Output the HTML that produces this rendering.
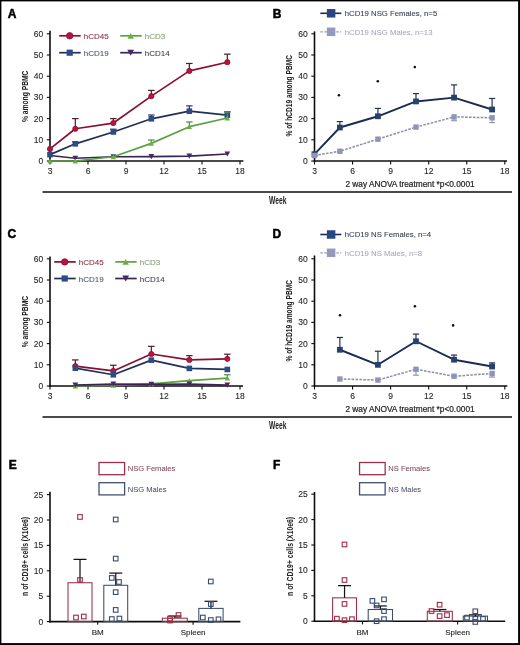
<!DOCTYPE html>
<html><head><meta charset="utf-8"><title>Figure</title>
<style>html,body{margin:0;padding:0;background:#fff;width:520px;height:645px;overflow:hidden;position:relative;font-family:"Liberation Sans", sans-serif;}</style>
</head><body>
<svg width="520" height="645" viewBox="0 0 520 645" style="position:absolute;left:0;top:0;filter:blur(0.3px)">
<g font-family='"Liberation Sans", sans-serif'>
<rect x="0" y="0" width="520" height="645" fill="#fff"/>
<text x="7.80" y="17.60" font-size="12" text-anchor="start" fill="#000" stroke="#000" stroke-width="0.5" font-weight="bold" >A</text>
<text x="272.70" y="18.00" font-size="12" text-anchor="start" fill="#000" stroke="#000" stroke-width="0.5" font-weight="bold" >B</text>
<text x="7.50" y="237.50" font-size="12" text-anchor="start" fill="#000" stroke="#000" stroke-width="0.5" font-weight="bold" >C</text>
<text x="272.50" y="237.50" font-size="12" text-anchor="start" fill="#000" stroke="#000" stroke-width="0.5" font-weight="bold" >D</text>
<text x="8.70" y="468.75" font-size="12" text-anchor="start" fill="#000" stroke="#000" stroke-width="0.5" font-weight="bold" >E</text>
<text x="273.00" y="468.75" font-size="12" text-anchor="start" fill="#000" stroke="#000" stroke-width="0.5" font-weight="bold" >F</text>
<line x1="50.00" y1="30.80" x2="50.00" y2="161.80" stroke="#0d0d0d" stroke-width="1.6" />
<line x1="49.20" y1="161.00" x2="243.40" y2="161.00" stroke="#0d0d0d" stroke-width="1.6" />
<line x1="46.80" y1="161.00" x2="50.00" y2="161.00" stroke="#0d0d0d" stroke-width="1.1" />
<text x="43.20" y="164.00" font-size="8.5" text-anchor="end" fill="#262626" stroke="#262626" stroke-width="0.1" font-weight="normal" >0</text>
<line x1="46.80" y1="139.80" x2="50.00" y2="139.80" stroke="#0d0d0d" stroke-width="1.1" />
<text x="43.20" y="142.80" font-size="8.5" text-anchor="end" fill="#262626" stroke="#262626" stroke-width="0.1" font-weight="normal" >10</text>
<line x1="46.80" y1="118.60" x2="50.00" y2="118.60" stroke="#0d0d0d" stroke-width="1.1" />
<text x="43.20" y="121.60" font-size="8.5" text-anchor="end" fill="#262626" stroke="#262626" stroke-width="0.1" font-weight="normal" >20</text>
<line x1="46.80" y1="97.40" x2="50.00" y2="97.40" stroke="#0d0d0d" stroke-width="1.1" />
<text x="43.20" y="100.40" font-size="8.5" text-anchor="end" fill="#262626" stroke="#262626" stroke-width="0.1" font-weight="normal" >30</text>
<line x1="46.80" y1="76.20" x2="50.00" y2="76.20" stroke="#0d0d0d" stroke-width="1.1" />
<text x="43.20" y="79.20" font-size="8.5" text-anchor="end" fill="#262626" stroke="#262626" stroke-width="0.1" font-weight="normal" >40</text>
<line x1="46.80" y1="55.00" x2="50.00" y2="55.00" stroke="#0d0d0d" stroke-width="1.1" />
<text x="43.20" y="58.00" font-size="8.5" text-anchor="end" fill="#262626" stroke="#262626" stroke-width="0.1" font-weight="normal" >50</text>
<line x1="46.80" y1="33.80" x2="50.00" y2="33.80" stroke="#0d0d0d" stroke-width="1.1" />
<text x="43.20" y="36.80" font-size="8.5" text-anchor="end" fill="#262626" stroke="#262626" stroke-width="0.1" font-weight="normal" >60</text>
<line x1="50.00" y1="161.00" x2="50.00" y2="164.50" stroke="#0d0d0d" stroke-width="1.1" />
<text x="50.00" y="173.70" font-size="8.5" text-anchor="middle" fill="#262626" stroke="#262626" stroke-width="0.1" font-weight="normal" >3</text>
<line x1="88.00" y1="161.00" x2="88.00" y2="164.50" stroke="#0d0d0d" stroke-width="1.1" />
<text x="88.00" y="173.70" font-size="8.5" text-anchor="middle" fill="#262626" stroke="#262626" stroke-width="0.1" font-weight="normal" >6</text>
<line x1="126.00" y1="161.00" x2="126.00" y2="164.50" stroke="#0d0d0d" stroke-width="1.1" />
<text x="126.00" y="173.70" font-size="8.5" text-anchor="middle" fill="#262626" stroke="#262626" stroke-width="0.1" font-weight="normal" >9</text>
<line x1="164.00" y1="161.00" x2="164.00" y2="164.50" stroke="#0d0d0d" stroke-width="1.1" />
<text x="164.00" y="173.70" font-size="8.5" text-anchor="middle" fill="#262626" stroke="#262626" stroke-width="0.1" font-weight="normal" >12</text>
<line x1="202.00" y1="161.00" x2="202.00" y2="164.50" stroke="#0d0d0d" stroke-width="1.1" />
<text x="202.00" y="173.70" font-size="8.5" text-anchor="middle" fill="#262626" stroke="#262626" stroke-width="0.1" font-weight="normal" >15</text>
<line x1="240.00" y1="161.00" x2="240.00" y2="164.50" stroke="#0d0d0d" stroke-width="1.1" />
<text x="240.00" y="173.70" font-size="8.5" text-anchor="middle" fill="#262626" stroke="#262626" stroke-width="0.1" font-weight="normal" >18</text>
<text transform="translate(24.40,96.30) rotate(-90)" x="-25.75" y="3.46" font-size="9.6" font-weight="bold" textLength="51.5" lengthAdjust="spacingAndGlyphs" fill="#222">% among PBMC</text>
<line x1="75.33" y1="128.78" x2="75.33" y2="118.60" stroke="#4a1a28" stroke-width="1.2" />
<line x1="72.08" y1="118.60" x2="78.58" y2="118.60" stroke="#4a1a28" stroke-width="1.2" />
<line x1="113.33" y1="123.05" x2="113.33" y2="118.60" stroke="#4a1a28" stroke-width="1.2" />
<line x1="110.08" y1="118.60" x2="116.58" y2="118.60" stroke="#4a1a28" stroke-width="1.2" />
<line x1="151.33" y1="96.13" x2="151.33" y2="90.40" stroke="#4a1a28" stroke-width="1.2" />
<line x1="148.08" y1="90.40" x2="154.58" y2="90.40" stroke="#4a1a28" stroke-width="1.2" />
<line x1="189.33" y1="70.90" x2="189.33" y2="63.48" stroke="#4a1a28" stroke-width="1.2" />
<line x1="186.08" y1="63.48" x2="192.58" y2="63.48" stroke="#4a1a28" stroke-width="1.2" />
<line x1="227.33" y1="62.21" x2="227.33" y2="54.15" stroke="#4a1a28" stroke-width="1.2" />
<line x1="224.08" y1="54.15" x2="230.58" y2="54.15" stroke="#4a1a28" stroke-width="1.2" />
<polyline points="50.00,148.92 75.33,128.78 113.33,123.05 151.33,96.13 189.33,70.90 227.33,62.21" fill="none" stroke="#85102f" stroke-width="1.7" stroke-linejoin="round" />
<circle cx="50.00" cy="148.92" r="2.6" fill="#bb1240" stroke="#8a0f2e" stroke-width="0.8"/>
<circle cx="75.33" cy="128.78" r="2.6" fill="#bb1240" stroke="#8a0f2e" stroke-width="0.8"/>
<circle cx="113.33" cy="123.05" r="2.6" fill="#bb1240" stroke="#8a0f2e" stroke-width="0.8"/>
<circle cx="151.33" cy="96.13" r="2.6" fill="#bb1240" stroke="#8a0f2e" stroke-width="0.8"/>
<circle cx="189.33" cy="70.90" r="2.6" fill="#bb1240" stroke="#8a0f2e" stroke-width="0.8"/>
<circle cx="227.33" cy="62.21" r="2.6" fill="#bb1240" stroke="#8a0f2e" stroke-width="0.8"/>
<polyline points="50.00,155.49 75.33,158.24 113.33,156.76 151.33,156.55 189.33,156.12 227.33,154.00" fill="none" stroke="#3b2354" stroke-width="1.7" stroke-linejoin="round" />
<polygon points="47.10,152.88 52.90,152.88 50.00,158.10" fill="#47296a"/>
<polygon points="72.43,155.63 78.23,155.63 75.33,160.85" fill="#47296a"/>
<polygon points="110.43,154.15 116.23,154.15 113.33,159.37" fill="#47296a"/>
<polygon points="148.43,153.94 154.23,153.94 151.33,159.16" fill="#47296a"/>
<polygon points="186.43,153.51 192.23,153.51 189.33,158.73" fill="#47296a"/>
<polygon points="224.43,151.39 230.23,151.39 227.33,156.61" fill="#47296a"/>
<line x1="75.33" y1="143.83" x2="75.33" y2="141.92" stroke="#26365a" stroke-width="1.2" />
<line x1="72.08" y1="141.92" x2="78.58" y2="141.92" stroke="#26365a" stroke-width="1.2" />
<line x1="113.33" y1="131.96" x2="113.33" y2="129.20" stroke="#26365a" stroke-width="1.2" />
<line x1="110.08" y1="129.20" x2="116.58" y2="129.20" stroke="#26365a" stroke-width="1.2" />
<line x1="151.33" y1="118.81" x2="151.33" y2="115.00" stroke="#26365a" stroke-width="1.2" />
<line x1="148.08" y1="115.00" x2="154.58" y2="115.00" stroke="#26365a" stroke-width="1.2" />
<line x1="189.33" y1="111.18" x2="189.33" y2="105.88" stroke="#26365a" stroke-width="1.2" />
<line x1="186.08" y1="105.88" x2="192.58" y2="105.88" stroke="#26365a" stroke-width="1.2" />
<line x1="227.33" y1="115.21" x2="227.33" y2="111.82" stroke="#26365a" stroke-width="1.2" />
<line x1="224.08" y1="111.82" x2="230.58" y2="111.82" stroke="#26365a" stroke-width="1.2" />
<polyline points="50.00,154.64 75.33,143.83 113.33,131.96 151.33,118.81 189.33,111.18 227.33,115.21" fill="none" stroke="#203058" stroke-width="1.7" stroke-linejoin="round" />
<rect x="47.20" y="151.84" width="5.6" height="5.6" fill="#2b4c86" stroke="none" stroke-width="0"/>
<rect x="72.53" y="141.03" width="5.6" height="5.6" fill="#2b4c86" stroke="none" stroke-width="0"/>
<rect x="110.53" y="129.16" width="5.6" height="5.6" fill="#2b4c86" stroke="none" stroke-width="0"/>
<rect x="148.53" y="116.01" width="5.6" height="5.6" fill="#2b4c86" stroke="none" stroke-width="0"/>
<rect x="186.53" y="108.38" width="5.6" height="5.6" fill="#2b4c86" stroke="none" stroke-width="0"/>
<rect x="224.53" y="112.41" width="5.6" height="5.6" fill="#2b4c86" stroke="none" stroke-width="0"/>
<line x1="151.33" y1="143.40" x2="151.33" y2="140.01" stroke="#4f8a38" stroke-width="1.2" />
<line x1="148.08" y1="140.01" x2="154.58" y2="140.01" stroke="#4f8a38" stroke-width="1.2" />
<line x1="189.33" y1="126.66" x2="189.33" y2="121.99" stroke="#4f8a38" stroke-width="1.2" />
<line x1="186.08" y1="121.99" x2="192.58" y2="121.99" stroke="#4f8a38" stroke-width="1.2" />
<line x1="227.33" y1="117.96" x2="227.33" y2="111.82" stroke="#4f8a38" stroke-width="1.2" />
<line x1="224.08" y1="111.82" x2="230.58" y2="111.82" stroke="#4f8a38" stroke-width="1.2" />
<polyline points="50.00,161.00 75.33,161.00 113.33,156.76 151.33,143.40 189.33,126.66 227.33,117.96" fill="none" stroke="#5ca23f" stroke-width="1.7" stroke-linejoin="round" />
<polygon points="47.30,163.43 52.70,163.43 50.00,158.57" fill="#6cae42"/>
<polygon points="72.63,163.43 78.03,163.43 75.33,158.57" fill="#6cae42"/>
<polygon points="110.63,159.19 116.03,159.19 113.33,154.33" fill="#6cae42"/>
<polygon points="148.63,145.83 154.03,145.83 151.33,140.97" fill="#6cae42"/>
<polygon points="186.63,129.09 192.03,129.09 189.33,124.23" fill="#6cae42"/>
<polygon points="224.63,120.39 230.03,120.39 227.33,115.53" fill="#6cae42"/>
<line x1="59.20" y1="35.80" x2="80.70" y2="35.80" stroke="#85102f" stroke-width="1.7" />
<circle cx="69.70" cy="35.80" r="3.2" fill="#bb1240" stroke="#8a0f2e" stroke-width="0.8"/>
<text x="83.70" y="38.80" font-size="8.0" text-anchor="start" fill="#8c3347" stroke="#8c3347" stroke-width="0.1" font-weight="normal" >hCD45</text>
<line x1="120.20" y1="35.80" x2="141.70" y2="35.80" stroke="#5ca23f" stroke-width="1.7" />
<polygon points="127.45,38.72 133.95,38.72 130.70,32.88" fill="#6cae42"/>
<text x="144.70" y="38.80" font-size="8.0" text-anchor="start" fill="#8aa07a" stroke="#8aa07a" stroke-width="0.1" font-weight="normal" >hCD3</text>
<line x1="59.20" y1="52.70" x2="80.70" y2="52.70" stroke="#203058" stroke-width="1.7" />
<rect x="66.60" y="49.60" width="6.2" height="6.2" fill="#2b4c86" stroke="none" stroke-width="0"/>
<text x="83.70" y="55.70" font-size="8.0" text-anchor="start" fill="#4e5a74" stroke="#4e5a74" stroke-width="0.1" font-weight="normal" >hCD19</text>
<line x1="120.20" y1="52.70" x2="141.70" y2="52.70" stroke="#3b2354" stroke-width="1.7" />
<polygon points="127.30,49.64 134.10,49.64 130.70,55.76" fill="#47296a"/>
<text x="144.70" y="55.70" font-size="8.0" text-anchor="start" fill="#4a4058" stroke="#4a4058" stroke-width="0.1" font-weight="normal" >hCD14</text>
<line x1="314.50" y1="31.40" x2="314.50" y2="161.80" stroke="#0d0d0d" stroke-width="1.6" />
<line x1="313.70" y1="161.00" x2="507.00" y2="161.00" stroke="#0d0d0d" stroke-width="1.6" />
<line x1="311.30" y1="161.00" x2="314.50" y2="161.00" stroke="#0d0d0d" stroke-width="1.1" />
<text x="307.70" y="164.00" font-size="8.5" text-anchor="end" fill="#262626" stroke="#262626" stroke-width="0.1" font-weight="normal" >0</text>
<line x1="311.30" y1="139.80" x2="314.50" y2="139.80" stroke="#0d0d0d" stroke-width="1.1" />
<text x="307.70" y="142.80" font-size="8.5" text-anchor="end" fill="#262626" stroke="#262626" stroke-width="0.1" font-weight="normal" >10</text>
<line x1="311.30" y1="118.60" x2="314.50" y2="118.60" stroke="#0d0d0d" stroke-width="1.1" />
<text x="307.70" y="121.60" font-size="8.5" text-anchor="end" fill="#262626" stroke="#262626" stroke-width="0.1" font-weight="normal" >20</text>
<line x1="311.30" y1="97.40" x2="314.50" y2="97.40" stroke="#0d0d0d" stroke-width="1.1" />
<text x="307.70" y="100.40" font-size="8.5" text-anchor="end" fill="#262626" stroke="#262626" stroke-width="0.1" font-weight="normal" >30</text>
<line x1="311.30" y1="76.20" x2="314.50" y2="76.20" stroke="#0d0d0d" stroke-width="1.1" />
<text x="307.70" y="79.20" font-size="8.5" text-anchor="end" fill="#262626" stroke="#262626" stroke-width="0.1" font-weight="normal" >40</text>
<line x1="311.30" y1="55.00" x2="314.50" y2="55.00" stroke="#0d0d0d" stroke-width="1.1" />
<text x="307.70" y="58.00" font-size="8.5" text-anchor="end" fill="#262626" stroke="#262626" stroke-width="0.1" font-weight="normal" >50</text>
<line x1="311.30" y1="33.80" x2="314.50" y2="33.80" stroke="#0d0d0d" stroke-width="1.1" />
<text x="307.70" y="36.80" font-size="8.5" text-anchor="end" fill="#262626" stroke="#262626" stroke-width="0.1" font-weight="normal" >60</text>
<line x1="314.50" y1="161.00" x2="314.50" y2="164.50" stroke="#0d0d0d" stroke-width="1.1" />
<text x="314.50" y="173.70" font-size="8.5" text-anchor="middle" fill="#262626" stroke="#262626" stroke-width="0.1" font-weight="normal" >3</text>
<line x1="352.56" y1="161.00" x2="352.56" y2="164.50" stroke="#0d0d0d" stroke-width="1.1" />
<text x="352.56" y="173.70" font-size="8.5" text-anchor="middle" fill="#262626" stroke="#262626" stroke-width="0.1" font-weight="normal" >6</text>
<line x1="390.62" y1="161.00" x2="390.62" y2="164.50" stroke="#0d0d0d" stroke-width="1.1" />
<text x="390.62" y="173.70" font-size="8.5" text-anchor="middle" fill="#262626" stroke="#262626" stroke-width="0.1" font-weight="normal" >9</text>
<line x1="428.68" y1="161.00" x2="428.68" y2="164.50" stroke="#0d0d0d" stroke-width="1.1" />
<text x="428.68" y="173.70" font-size="8.5" text-anchor="middle" fill="#262626" stroke="#262626" stroke-width="0.1" font-weight="normal" >12</text>
<line x1="466.74" y1="161.00" x2="466.74" y2="164.50" stroke="#0d0d0d" stroke-width="1.1" />
<text x="466.74" y="173.70" font-size="8.5" text-anchor="middle" fill="#262626" stroke="#262626" stroke-width="0.1" font-weight="normal" >15</text>
<line x1="504.80" y1="161.00" x2="504.80" y2="164.50" stroke="#0d0d0d" stroke-width="1.1" />
<text x="504.80" y="173.70" font-size="8.5" text-anchor="middle" fill="#262626" stroke="#262626" stroke-width="0.1" font-weight="normal" >18</text>
<text transform="translate(289.00,95.80) rotate(-90)" x="-40.75" y="3.46" font-size="9.6" font-weight="bold" textLength="81.5" lengthAdjust="spacingAndGlyphs" fill="#222">% of hCD19 among PBMC</text>
<line x1="339.87" y1="127.50" x2="339.87" y2="121.57" stroke="#28324c" stroke-width="1.2" />
<line x1="336.77" y1="121.57" x2="342.97" y2="121.57" stroke="#28324c" stroke-width="1.2" />
<line x1="377.93" y1="116.27" x2="377.93" y2="108.42" stroke="#28324c" stroke-width="1.2" />
<line x1="374.83" y1="108.42" x2="381.03" y2="108.42" stroke="#28324c" stroke-width="1.2" />
<line x1="415.99" y1="101.43" x2="415.99" y2="93.58" stroke="#28324c" stroke-width="1.2" />
<line x1="412.89" y1="93.58" x2="419.09" y2="93.58" stroke="#28324c" stroke-width="1.2" />
<line x1="454.05" y1="97.61" x2="454.05" y2="84.89" stroke="#28324c" stroke-width="1.2" />
<line x1="450.95" y1="84.89" x2="457.15" y2="84.89" stroke="#28324c" stroke-width="1.2" />
<line x1="492.11" y1="109.48" x2="492.11" y2="98.46" stroke="#28324c" stroke-width="1.2" />
<line x1="489.01" y1="98.46" x2="495.21" y2="98.46" stroke="#28324c" stroke-width="1.2" />
<polyline points="314.50,154.22 339.87,127.50 377.93,116.27 415.99,101.43 454.05,97.61 492.11,109.48" fill="none" stroke="#1c2b52" stroke-width="1.9" stroke-linejoin="round" />
<rect x="311.60" y="151.32" width="5.8" height="5.8" fill="#26406f" stroke="none" stroke-width="0"/>
<rect x="336.97" y="124.60" width="5.8" height="5.8" fill="#26406f" stroke="none" stroke-width="0"/>
<rect x="375.03" y="113.37" width="5.8" height="5.8" fill="#26406f" stroke="none" stroke-width="0"/>
<rect x="413.09" y="98.53" width="5.8" height="5.8" fill="#26406f" stroke="none" stroke-width="0"/>
<rect x="451.15" y="94.71" width="5.8" height="5.8" fill="#26406f" stroke="none" stroke-width="0"/>
<rect x="489.21" y="106.58" width="5.8" height="5.8" fill="#26406f" stroke="none" stroke-width="0"/>
<line x1="454.05" y1="116.90" x2="454.05" y2="120.72" stroke="#8a90b0" stroke-width="1.1" />
<line x1="451.05" y1="120.72" x2="457.05" y2="120.72" stroke="#8a90b0" stroke-width="1.1" />
<line x1="492.11" y1="117.75" x2="492.11" y2="122.63" stroke="#8a90b0" stroke-width="1.1" />
<line x1="489.11" y1="122.63" x2="495.11" y2="122.63" stroke="#8a90b0" stroke-width="1.1" />
<polyline points="314.50,155.49 339.87,151.25 377.93,139.16 415.99,127.08 454.05,116.90 492.11,117.75" fill="none" stroke="#8a8cab" stroke-width="1.5" stroke-linejoin="round" stroke-dasharray="2.6,1.3"/>
<rect x="311.80" y="152.79" width="5.4" height="5.4" fill="#9095b8" stroke="none" stroke-width="0"/>
<rect x="337.17" y="148.55" width="5.4" height="5.4" fill="#9095b8" stroke="none" stroke-width="0"/>
<rect x="375.23" y="136.46" width="5.4" height="5.4" fill="#9095b8" stroke="none" stroke-width="0"/>
<rect x="413.29" y="124.38" width="5.4" height="5.4" fill="#9095b8" stroke="none" stroke-width="0"/>
<rect x="451.35" y="114.20" width="5.4" height="5.4" fill="#9095b8" stroke="none" stroke-width="0"/>
<rect x="489.41" y="115.05" width="5.4" height="5.4" fill="#9095b8" stroke="none" stroke-width="0"/>
<circle cx="338.90" cy="95.30" r="1.3" fill="#111" stroke="none" stroke-width="0"/>
<circle cx="377.80" cy="81.20" r="1.3" fill="#111" stroke="none" stroke-width="0"/>
<circle cx="414.80" cy="67.10" r="1.3" fill="#111" stroke="none" stroke-width="0"/>
<line x1="320.30" y1="13.30" x2="341.30" y2="13.30" stroke="#1c2b52" stroke-width="1.6" />
<rect x="326.85" y="9.05" width="8.5" height="8.5" fill="#284680" stroke="none" stroke-width="0"/>
<text x="344.80" y="16.10" font-size="7.75" text-anchor="start" fill="#3c4356" stroke="#3c4356" stroke-width="0.1" font-weight="normal" >hCD19 NSG Females, n=5</text>
<line x1="320.30" y1="31.80" x2="341.30" y2="31.80" stroke="#9499bd" stroke-width="1.3" stroke-dasharray="2.5,1.5"/>
<rect x="326.85" y="27.55" width="8.5" height="8.5" fill="#9499bd" stroke="none" stroke-width="0"/>
<text x="344.80" y="34.60" font-size="7.75" text-anchor="start" fill="#a3a7bd" stroke="#a3a7bd" stroke-width="0.05" font-weight="normal" >hCD19 NSG Males, n=13</text>
<text x="410.00" y="187.00" font-size="8.3" text-anchor="middle" fill="#262626" stroke="#262626" stroke-width="0.22" font-weight="normal" >2 way ANOVA treatment *p&lt;0.0001</text>
<line x1="42.50" y1="192.00" x2="512.00" y2="192.00" stroke="#0d0d0d" stroke-width="1.5" />
<text x="269" y="203.9" font-size="10" font-weight="bold" textLength="17.4" lengthAdjust="spacingAndGlyphs" fill="#222">Week</text>
<line x1="50.00" y1="256.50" x2="50.00" y2="386.80" stroke="#0d0d0d" stroke-width="1.6" />
<line x1="49.20" y1="386.00" x2="243.00" y2="386.00" stroke="#0d0d0d" stroke-width="1.6" />
<line x1="46.80" y1="386.00" x2="50.00" y2="386.00" stroke="#0d0d0d" stroke-width="1.1" />
<text x="43.20" y="389.00" font-size="8.5" text-anchor="end" fill="#262626" stroke="#262626" stroke-width="0.1" font-weight="normal" >0</text>
<line x1="46.80" y1="364.80" x2="50.00" y2="364.80" stroke="#0d0d0d" stroke-width="1.1" />
<text x="43.20" y="367.80" font-size="8.5" text-anchor="end" fill="#262626" stroke="#262626" stroke-width="0.1" font-weight="normal" >10</text>
<line x1="46.80" y1="343.60" x2="50.00" y2="343.60" stroke="#0d0d0d" stroke-width="1.1" />
<text x="43.20" y="346.60" font-size="8.5" text-anchor="end" fill="#262626" stroke="#262626" stroke-width="0.1" font-weight="normal" >20</text>
<line x1="46.80" y1="322.40" x2="50.00" y2="322.40" stroke="#0d0d0d" stroke-width="1.1" />
<text x="43.20" y="325.40" font-size="8.5" text-anchor="end" fill="#262626" stroke="#262626" stroke-width="0.1" font-weight="normal" >30</text>
<line x1="46.80" y1="301.20" x2="50.00" y2="301.20" stroke="#0d0d0d" stroke-width="1.1" />
<text x="43.20" y="304.20" font-size="8.5" text-anchor="end" fill="#262626" stroke="#262626" stroke-width="0.1" font-weight="normal" >40</text>
<line x1="46.80" y1="280.00" x2="50.00" y2="280.00" stroke="#0d0d0d" stroke-width="1.1" />
<text x="43.20" y="283.00" font-size="8.5" text-anchor="end" fill="#262626" stroke="#262626" stroke-width="0.1" font-weight="normal" >50</text>
<line x1="46.80" y1="258.80" x2="50.00" y2="258.80" stroke="#0d0d0d" stroke-width="1.1" />
<text x="43.20" y="261.80" font-size="8.5" text-anchor="end" fill="#262626" stroke="#262626" stroke-width="0.1" font-weight="normal" >60</text>
<line x1="50.00" y1="386.00" x2="50.00" y2="389.50" stroke="#0d0d0d" stroke-width="1.1" />
<text x="50.00" y="398.70" font-size="8.5" text-anchor="middle" fill="#262626" stroke="#262626" stroke-width="0.1" font-weight="normal" >3</text>
<line x1="88.00" y1="386.00" x2="88.00" y2="389.50" stroke="#0d0d0d" stroke-width="1.1" />
<text x="88.00" y="398.70" font-size="8.5" text-anchor="middle" fill="#262626" stroke="#262626" stroke-width="0.1" font-weight="normal" >6</text>
<line x1="126.00" y1="386.00" x2="126.00" y2="389.50" stroke="#0d0d0d" stroke-width="1.1" />
<text x="126.00" y="398.70" font-size="8.5" text-anchor="middle" fill="#262626" stroke="#262626" stroke-width="0.1" font-weight="normal" >9</text>
<line x1="164.00" y1="386.00" x2="164.00" y2="389.50" stroke="#0d0d0d" stroke-width="1.1" />
<text x="164.00" y="398.70" font-size="8.5" text-anchor="middle" fill="#262626" stroke="#262626" stroke-width="0.1" font-weight="normal" >12</text>
<line x1="202.00" y1="386.00" x2="202.00" y2="389.50" stroke="#0d0d0d" stroke-width="1.1" />
<text x="202.00" y="398.70" font-size="8.5" text-anchor="middle" fill="#262626" stroke="#262626" stroke-width="0.1" font-weight="normal" >15</text>
<line x1="240.00" y1="386.00" x2="240.00" y2="389.50" stroke="#0d0d0d" stroke-width="1.1" />
<text x="240.00" y="398.70" font-size="8.5" text-anchor="middle" fill="#262626" stroke="#262626" stroke-width="0.1" font-weight="normal" >18</text>
<text transform="translate(24.40,321.60) rotate(-90)" x="-25.75" y="3.46" font-size="9.6" font-weight="bold" textLength="51.5" lengthAdjust="spacingAndGlyphs" fill="#222">% among PBMC</text>
<line x1="75.33" y1="366.07" x2="75.33" y2="359.92" stroke="#4a1a28" stroke-width="1.2" />
<line x1="72.08" y1="359.92" x2="78.58" y2="359.92" stroke="#4a1a28" stroke-width="1.2" />
<line x1="113.33" y1="370.95" x2="113.33" y2="365.22" stroke="#4a1a28" stroke-width="1.2" />
<line x1="110.08" y1="365.22" x2="116.58" y2="365.22" stroke="#4a1a28" stroke-width="1.2" />
<line x1="151.33" y1="353.99" x2="151.33" y2="346.36" stroke="#4a1a28" stroke-width="1.2" />
<line x1="148.08" y1="346.36" x2="154.58" y2="346.36" stroke="#4a1a28" stroke-width="1.2" />
<line x1="189.33" y1="359.92" x2="189.33" y2="355.68" stroke="#4a1a28" stroke-width="1.2" />
<line x1="186.08" y1="355.68" x2="192.58" y2="355.68" stroke="#4a1a28" stroke-width="1.2" />
<line x1="227.33" y1="358.86" x2="227.33" y2="354.20" stroke="#4a1a28" stroke-width="1.2" />
<line x1="224.08" y1="354.20" x2="230.58" y2="354.20" stroke="#4a1a28" stroke-width="1.2" />
<polyline points="75.33,366.07 113.33,370.95 151.33,353.99 189.33,359.92 227.33,358.86" fill="none" stroke="#85102f" stroke-width="1.7" stroke-linejoin="round" />
<circle cx="75.33" cy="366.07" r="2.6" fill="#bb1240" stroke="#8a0f2e" stroke-width="0.8"/>
<circle cx="113.33" cy="370.95" r="2.6" fill="#bb1240" stroke="#8a0f2e" stroke-width="0.8"/>
<circle cx="151.33" cy="353.99" r="2.6" fill="#bb1240" stroke="#8a0f2e" stroke-width="0.8"/>
<circle cx="189.33" cy="359.92" r="2.6" fill="#bb1240" stroke="#8a0f2e" stroke-width="0.8"/>
<circle cx="227.33" cy="358.86" r="2.6" fill="#bb1240" stroke="#8a0f2e" stroke-width="0.8"/>
<polyline points="75.33,368.19 113.33,374.76 151.33,360.14 189.33,368.40 227.33,369.46" fill="none" stroke="#203058" stroke-width="1.7" stroke-linejoin="round" />
<rect x="72.53" y="365.39" width="5.6" height="5.6" fill="#2b4c86" stroke="none" stroke-width="0"/>
<rect x="110.53" y="371.96" width="5.6" height="5.6" fill="#2b4c86" stroke="none" stroke-width="0"/>
<rect x="148.53" y="357.34" width="5.6" height="5.6" fill="#2b4c86" stroke="none" stroke-width="0"/>
<rect x="186.53" y="365.60" width="5.6" height="5.6" fill="#2b4c86" stroke="none" stroke-width="0"/>
<rect x="224.53" y="366.66" width="5.6" height="5.6" fill="#2b4c86" stroke="none" stroke-width="0"/>
<line x1="227.33" y1="378.16" x2="227.33" y2="374.76" stroke="#4f8a38" stroke-width="1.2" />
<line x1="224.08" y1="374.76" x2="230.58" y2="374.76" stroke="#4f8a38" stroke-width="1.2" />
<polyline points="75.33,386.00 113.33,385.36 151.33,383.88 189.33,380.70 227.33,378.16" fill="none" stroke="#5ca23f" stroke-width="1.7" stroke-linejoin="round" />
<polygon points="72.63,388.43 78.03,388.43 75.33,383.57" fill="#6cae42"/>
<polygon points="110.63,387.79 116.03,387.79 113.33,382.93" fill="#6cae42"/>
<polygon points="148.63,386.31 154.03,386.31 151.33,381.45" fill="#6cae42"/>
<polygon points="186.63,383.13 192.03,383.13 189.33,378.27" fill="#6cae42"/>
<polygon points="224.63,380.59 230.03,380.59 227.33,375.73" fill="#6cae42"/>
<polyline points="75.33,385.15 113.33,384.09 151.33,384.30 189.33,384.09 227.33,385.15" fill="none" stroke="#3b2354" stroke-width="1.7" stroke-linejoin="round" />
<polygon points="72.43,382.54 78.23,382.54 75.33,387.76" fill="#47296a"/>
<polygon points="110.43,381.48 116.23,381.48 113.33,386.70" fill="#47296a"/>
<polygon points="148.43,381.69 154.23,381.69 151.33,386.91" fill="#47296a"/>
<polygon points="186.43,381.48 192.23,381.48 189.33,386.70" fill="#47296a"/>
<polygon points="224.43,382.54 230.23,382.54 227.33,387.76" fill="#47296a"/>
<line x1="54.20" y1="261.90" x2="75.70" y2="261.90" stroke="#85102f" stroke-width="1.7" />
<circle cx="64.70" cy="261.90" r="3.2" fill="#bb1240" stroke="#8a0f2e" stroke-width="0.8"/>
<text x="78.70" y="264.90" font-size="8.0" text-anchor="start" fill="#8c3347" stroke="#8c3347" stroke-width="0.1" font-weight="normal" >hCD45</text>
<line x1="115.20" y1="261.90" x2="136.70" y2="261.90" stroke="#5ca23f" stroke-width="1.7" />
<polygon points="122.45,264.82 128.95,264.82 125.70,258.97" fill="#6cae42"/>
<text x="139.70" y="264.90" font-size="8.0" text-anchor="start" fill="#8aa07a" stroke="#8aa07a" stroke-width="0.1" font-weight="normal" >hCD3</text>
<line x1="54.20" y1="278.50" x2="75.70" y2="278.50" stroke="#203058" stroke-width="1.7" />
<rect x="61.60" y="275.40" width="6.2" height="6.2" fill="#2b4c86" stroke="none" stroke-width="0"/>
<text x="78.70" y="281.50" font-size="8.0" text-anchor="start" fill="#4e5a74" stroke="#4e5a74" stroke-width="0.1" font-weight="normal" >hCD19</text>
<line x1="115.20" y1="278.50" x2="136.70" y2="278.50" stroke="#3b2354" stroke-width="1.7" />
<polygon points="122.30,275.44 129.10,275.44 125.70,281.56" fill="#47296a"/>
<text x="139.70" y="281.50" font-size="8.0" text-anchor="start" fill="#4a4058" stroke="#4a4058" stroke-width="0.1" font-weight="normal" >hCD14</text>
<line x1="314.50" y1="255.50" x2="314.50" y2="386.80" stroke="#0d0d0d" stroke-width="1.6" />
<line x1="313.70" y1="386.00" x2="507.30" y2="386.00" stroke="#0d0d0d" stroke-width="1.6" />
<line x1="311.30" y1="386.00" x2="314.50" y2="386.00" stroke="#0d0d0d" stroke-width="1.1" />
<text x="307.70" y="389.00" font-size="8.5" text-anchor="end" fill="#262626" stroke="#262626" stroke-width="0.1" font-weight="normal" >0</text>
<line x1="311.30" y1="364.80" x2="314.50" y2="364.80" stroke="#0d0d0d" stroke-width="1.1" />
<text x="307.70" y="367.80" font-size="8.5" text-anchor="end" fill="#262626" stroke="#262626" stroke-width="0.1" font-weight="normal" >10</text>
<line x1="311.30" y1="343.60" x2="314.50" y2="343.60" stroke="#0d0d0d" stroke-width="1.1" />
<text x="307.70" y="346.60" font-size="8.5" text-anchor="end" fill="#262626" stroke="#262626" stroke-width="0.1" font-weight="normal" >20</text>
<line x1="311.30" y1="322.40" x2="314.50" y2="322.40" stroke="#0d0d0d" stroke-width="1.1" />
<text x="307.70" y="325.40" font-size="8.5" text-anchor="end" fill="#262626" stroke="#262626" stroke-width="0.1" font-weight="normal" >30</text>
<line x1="311.30" y1="301.20" x2="314.50" y2="301.20" stroke="#0d0d0d" stroke-width="1.1" />
<text x="307.70" y="304.20" font-size="8.5" text-anchor="end" fill="#262626" stroke="#262626" stroke-width="0.1" font-weight="normal" >40</text>
<line x1="311.30" y1="280.00" x2="314.50" y2="280.00" stroke="#0d0d0d" stroke-width="1.1" />
<text x="307.70" y="283.00" font-size="8.5" text-anchor="end" fill="#262626" stroke="#262626" stroke-width="0.1" font-weight="normal" >50</text>
<line x1="311.30" y1="258.80" x2="314.50" y2="258.80" stroke="#0d0d0d" stroke-width="1.1" />
<text x="307.70" y="261.80" font-size="8.5" text-anchor="end" fill="#262626" stroke="#262626" stroke-width="0.1" font-weight="normal" >60</text>
<line x1="314.50" y1="386.00" x2="314.50" y2="389.50" stroke="#0d0d0d" stroke-width="1.1" />
<text x="314.50" y="398.70" font-size="8.5" text-anchor="middle" fill="#262626" stroke="#262626" stroke-width="0.1" font-weight="normal" >3</text>
<line x1="352.56" y1="386.00" x2="352.56" y2="389.50" stroke="#0d0d0d" stroke-width="1.1" />
<text x="352.56" y="398.70" font-size="8.5" text-anchor="middle" fill="#262626" stroke="#262626" stroke-width="0.1" font-weight="normal" >6</text>
<line x1="390.62" y1="386.00" x2="390.62" y2="389.50" stroke="#0d0d0d" stroke-width="1.1" />
<text x="390.62" y="398.70" font-size="8.5" text-anchor="middle" fill="#262626" stroke="#262626" stroke-width="0.1" font-weight="normal" >9</text>
<line x1="428.68" y1="386.00" x2="428.68" y2="389.50" stroke="#0d0d0d" stroke-width="1.1" />
<text x="428.68" y="398.70" font-size="8.5" text-anchor="middle" fill="#262626" stroke="#262626" stroke-width="0.1" font-weight="normal" >12</text>
<line x1="466.74" y1="386.00" x2="466.74" y2="389.50" stroke="#0d0d0d" stroke-width="1.1" />
<text x="466.74" y="398.70" font-size="8.5" text-anchor="middle" fill="#262626" stroke="#262626" stroke-width="0.1" font-weight="normal" >15</text>
<line x1="504.80" y1="386.00" x2="504.80" y2="389.50" stroke="#0d0d0d" stroke-width="1.1" />
<text x="504.80" y="398.70" font-size="8.5" text-anchor="middle" fill="#262626" stroke="#262626" stroke-width="0.1" font-weight="normal" >18</text>
<text transform="translate(289.00,320.80) rotate(-90)" x="-40.75" y="3.46" font-size="9.6" font-weight="bold" textLength="81.5" lengthAdjust="spacingAndGlyphs" fill="#222">% of hCD19 among PBMC</text>
<line x1="339.87" y1="349.75" x2="339.87" y2="337.45" stroke="#28324c" stroke-width="1.2" />
<line x1="336.77" y1="337.45" x2="342.97" y2="337.45" stroke="#28324c" stroke-width="1.2" />
<line x1="377.93" y1="364.80" x2="377.93" y2="351.23" stroke="#28324c" stroke-width="1.2" />
<line x1="374.83" y1="351.23" x2="381.03" y2="351.23" stroke="#28324c" stroke-width="1.2" />
<line x1="415.99" y1="341.27" x2="415.99" y2="334.06" stroke="#28324c" stroke-width="1.2" />
<line x1="412.89" y1="334.06" x2="419.09" y2="334.06" stroke="#28324c" stroke-width="1.2" />
<line x1="454.05" y1="359.71" x2="454.05" y2="355.05" stroke="#28324c" stroke-width="1.2" />
<line x1="450.95" y1="355.05" x2="457.15" y2="355.05" stroke="#28324c" stroke-width="1.2" />
<line x1="492.11" y1="366.50" x2="492.11" y2="362.89" stroke="#28324c" stroke-width="1.2" />
<line x1="489.01" y1="362.89" x2="495.21" y2="362.89" stroke="#28324c" stroke-width="1.2" />
<polyline points="339.87,349.75 377.93,364.80 415.99,341.27 454.05,359.71 492.11,366.50" fill="none" stroke="#1c2b52" stroke-width="1.9" stroke-linejoin="round" />
<rect x="336.97" y="346.85" width="5.8" height="5.8" fill="#26406f" stroke="none" stroke-width="0"/>
<rect x="375.03" y="361.90" width="5.8" height="5.8" fill="#26406f" stroke="none" stroke-width="0"/>
<rect x="413.09" y="338.37" width="5.8" height="5.8" fill="#26406f" stroke="none" stroke-width="0"/>
<rect x="451.15" y="356.81" width="5.8" height="5.8" fill="#26406f" stroke="none" stroke-width="0"/>
<rect x="489.21" y="363.60" width="5.8" height="5.8" fill="#26406f" stroke="none" stroke-width="0"/>
<line x1="415.99" y1="369.25" x2="415.99" y2="375.19" stroke="#8a90b0" stroke-width="1.1" />
<line x1="412.99" y1="375.19" x2="418.99" y2="375.19" stroke="#8a90b0" stroke-width="1.1" />
<line x1="492.11" y1="373.49" x2="492.11" y2="377.10" stroke="#8a90b0" stroke-width="1.1" />
<line x1="489.11" y1="377.10" x2="495.11" y2="377.10" stroke="#8a90b0" stroke-width="1.1" />
<polyline points="339.87,379.00 377.93,380.06 415.99,369.25 454.05,376.25 492.11,373.49" fill="none" stroke="#8a8cab" stroke-width="1.5" stroke-linejoin="round" stroke-dasharray="2.6,1.3"/>
<rect x="337.17" y="376.30" width="5.4" height="5.4" fill="#9095b8" stroke="none" stroke-width="0"/>
<rect x="375.23" y="377.36" width="5.4" height="5.4" fill="#9095b8" stroke="none" stroke-width="0"/>
<rect x="413.29" y="366.55" width="5.4" height="5.4" fill="#9095b8" stroke="none" stroke-width="0"/>
<rect x="451.35" y="373.55" width="5.4" height="5.4" fill="#9095b8" stroke="none" stroke-width="0"/>
<rect x="489.41" y="370.79" width="5.4" height="5.4" fill="#9095b8" stroke="none" stroke-width="0"/>
<circle cx="340.00" cy="315.30" r="1.3" fill="#111" stroke="none" stroke-width="0"/>
<circle cx="414.90" cy="306.30" r="1.3" fill="#111" stroke="none" stroke-width="0"/>
<circle cx="453.10" cy="325.40" r="1.3" fill="#111" stroke="none" stroke-width="0"/>
<line x1="320.30" y1="234.50" x2="341.30" y2="234.50" stroke="#1c2b52" stroke-width="1.6" />
<rect x="326.85" y="230.25" width="8.5" height="8.5" fill="#284680" stroke="none" stroke-width="0"/>
<text x="344.80" y="237.30" font-size="7.75" text-anchor="start" fill="#3c4356" stroke="#3c4356" stroke-width="0.1" font-weight="normal" >hCD19 NS Females, n=4</text>
<line x1="320.30" y1="252.80" x2="341.30" y2="252.80" stroke="#9499bd" stroke-width="1.3" stroke-dasharray="2.5,1.5"/>
<rect x="326.85" y="248.55" width="8.5" height="8.5" fill="#9499bd" stroke="none" stroke-width="0"/>
<text x="344.80" y="255.60" font-size="7.75" text-anchor="start" fill="#a3a7bd" stroke="#a3a7bd" stroke-width="0.05" font-weight="normal" >hCD19 NS Males, n=8</text>
<text x="410.00" y="412.00" font-size="8.3" text-anchor="middle" fill="#262626" stroke="#262626" stroke-width="0.22" font-weight="normal" >2 way ANOVA treatment *p&lt;0.0001</text>
<line x1="42.50" y1="417.00" x2="512.00" y2="417.00" stroke="#0d0d0d" stroke-width="1.5" />
<text x="269" y="429.1" font-size="10" font-weight="bold" textLength="17.4" lengthAdjust="spacingAndGlyphs" fill="#222">Week</text>
<line x1="50.00" y1="491.70" x2="50.00" y2="622.40" stroke="#0d0d0d" stroke-width="1.6" />
<line x1="49.20" y1="621.60" x2="240.40" y2="621.60" stroke="#0d0d0d" stroke-width="1.6" />
<line x1="46.80" y1="621.60" x2="50.00" y2="621.60" stroke="#0d0d0d" stroke-width="1.1" />
<text x="43.20" y="624.60" font-size="8.5" text-anchor="end" fill="#262626" stroke="#262626" stroke-width="0.1" font-weight="normal" >0</text>
<line x1="46.80" y1="596.20" x2="50.00" y2="596.20" stroke="#0d0d0d" stroke-width="1.1" />
<text x="43.20" y="599.20" font-size="8.5" text-anchor="end" fill="#262626" stroke="#262626" stroke-width="0.1" font-weight="normal" >5</text>
<line x1="46.80" y1="570.80" x2="50.00" y2="570.80" stroke="#0d0d0d" stroke-width="1.1" />
<text x="43.20" y="573.80" font-size="8.5" text-anchor="end" fill="#262626" stroke="#262626" stroke-width="0.1" font-weight="normal" >10</text>
<line x1="46.80" y1="545.40" x2="50.00" y2="545.40" stroke="#0d0d0d" stroke-width="1.1" />
<text x="43.20" y="548.40" font-size="8.5" text-anchor="end" fill="#262626" stroke="#262626" stroke-width="0.1" font-weight="normal" >15</text>
<line x1="46.80" y1="520.00" x2="50.00" y2="520.00" stroke="#0d0d0d" stroke-width="1.1" />
<text x="43.20" y="523.00" font-size="8.5" text-anchor="end" fill="#262626" stroke="#262626" stroke-width="0.1" font-weight="normal" >20</text>
<line x1="46.80" y1="494.60" x2="50.00" y2="494.60" stroke="#0d0d0d" stroke-width="1.1" />
<text x="43.20" y="497.60" font-size="8.5" text-anchor="end" fill="#262626" stroke="#262626" stroke-width="0.1" font-weight="normal" >25</text>
<text transform="translate(25.20,556.40) rotate(-90)" x="-39.50" y="3.02" font-size="8.4" font-weight="bold" textLength="79" lengthAdjust="spacingAndGlyphs" fill="#222">n of CD19+ cells (X10e6)</text>
<rect x="68.00" y="582.74" width="24.00" height="38.86" fill="none" stroke="#a02c46" stroke-width="1.05"/>
<line x1="80.00" y1="582.74" x2="80.00" y2="559.37" stroke="#151515" stroke-width="1.25" />
<line x1="73.50" y1="559.37" x2="86.50" y2="559.37" stroke="#151515" stroke-width="1.25" />
<rect x="77.70" y="514.65" width="4.6" height="4.6" fill="none" stroke="#a02c46" stroke-width="1.1"/>
<rect x="77.70" y="577.64" width="4.6" height="4.6" fill="none" stroke="#a02c46" stroke-width="1.1"/>
<rect x="73.70" y="615.24" width="4.6" height="4.6" fill="none" stroke="#a02c46" stroke-width="1.1"/>
<rect x="81.50" y="614.22" width="4.6" height="4.6" fill="none" stroke="#a02c46" stroke-width="1.1"/>
<rect x="103.80" y="585.28" width="23.90" height="36.32" fill="none" stroke="#3b4b70" stroke-width="1.05"/>
<line x1="115.75" y1="585.28" x2="115.75" y2="573.09" stroke="#151515" stroke-width="1.25" />
<line x1="109.25" y1="573.09" x2="122.25" y2="573.09" stroke="#151515" stroke-width="1.25" />
<rect x="113.40" y="517.19" width="4.6" height="4.6" fill="none" stroke="#3b4b70" stroke-width="1.1"/>
<rect x="113.40" y="556.31" width="4.6" height="4.6" fill="none" stroke="#3b4b70" stroke-width="1.1"/>
<rect x="109.50" y="575.61" width="4.6" height="4.6" fill="none" stroke="#3b4b70" stroke-width="1.1"/>
<rect x="116.70" y="579.68" width="4.6" height="4.6" fill="none" stroke="#3b4b70" stroke-width="1.1"/>
<rect x="113.40" y="589.84" width="4.6" height="4.6" fill="none" stroke="#3b4b70" stroke-width="1.1"/>
<rect x="113.40" y="607.62" width="4.6" height="4.6" fill="none" stroke="#3b4b70" stroke-width="1.1"/>
<rect x="109.50" y="616.76" width="4.6" height="4.6" fill="none" stroke="#3b4b70" stroke-width="1.1"/>
<rect x="117.10" y="616.25" width="4.6" height="4.6" fill="none" stroke="#3b4b70" stroke-width="1.1"/>
<rect x="162.40" y="618.20" width="24.90" height="3.40" fill="none" stroke="#a02c46" stroke-width="1.05"/>
<line x1="174.85" y1="618.20" x2="174.85" y2="616.01" stroke="#151515" stroke-width="1.25" />
<line x1="168.35" y1="616.01" x2="181.35" y2="616.01" stroke="#151515" stroke-width="1.25" />
<rect x="167.70" y="618.28" width="4.6" height="4.6" fill="none" stroke="#a02c46" stroke-width="1.1"/>
<rect x="176.20" y="612.70" width="4.6" height="4.6" fill="none" stroke="#a02c46" stroke-width="1.1"/>
<rect x="167.70" y="616.25" width="4.6" height="4.6" fill="none" stroke="#a02c46" stroke-width="1.1"/>
<rect x="198.80" y="608.39" width="24.30" height="13.21" fill="none" stroke="#3b4b70" stroke-width="1.05"/>
<line x1="210.95" y1="608.39" x2="210.95" y2="601.28" stroke="#151515" stroke-width="1.25" />
<line x1="204.45" y1="601.28" x2="217.45" y2="601.28" stroke="#151515" stroke-width="1.25" />
<rect x="208.50" y="579.17" width="4.6" height="4.6" fill="none" stroke="#3b4b70" stroke-width="1.1"/>
<rect x="208.50" y="601.77" width="4.6" height="4.6" fill="none" stroke="#3b4b70" stroke-width="1.1"/>
<rect x="200.50" y="615.24" width="4.6" height="4.6" fill="none" stroke="#3b4b70" stroke-width="1.1"/>
<rect x="208.50" y="617.78" width="4.6" height="4.6" fill="none" stroke="#3b4b70" stroke-width="1.1"/>
<rect x="216.20" y="617.01" width="4.6" height="4.6" fill="none" stroke="#3b4b70" stroke-width="1.1"/>
<line x1="97.70" y1="621.60" x2="97.70" y2="624.80" stroke="#0d0d0d" stroke-width="1.1" />
<text x="97.70" y="635.20" font-size="8.0" text-anchor="middle" fill="#262626" stroke="#262626" stroke-width="0.12" font-weight="normal" >BM</text>
<line x1="193.10" y1="621.60" x2="193.10" y2="624.80" stroke="#0d0d0d" stroke-width="1.1" />
<text x="193.10" y="635.20" font-size="8.0" text-anchor="middle" fill="#262626" stroke="#262626" stroke-width="0.12" font-weight="normal" >Spleen</text>
<rect x="99.00" y="462.50" width="25.6" height="12.2" fill="none" stroke="#9c3049" stroke-width="1.3"/>
<text x="127.70" y="471.30" font-size="7.6" text-anchor="start" fill="#7f4555" stroke="#7f4555" stroke-width="0.05" font-weight="normal" >NSG Females</text>
<rect x="99.00" y="482.70" width="25.6" height="12.2" fill="none" stroke="#435070" stroke-width="1.3"/>
<text x="127.70" y="491.50" font-size="7.6" text-anchor="start" fill="#4a5266" stroke="#4a5266" stroke-width="0.05" font-weight="normal" >NSG Males</text>
<line x1="314.50" y1="492.00" x2="314.50" y2="622.00" stroke="#0d0d0d" stroke-width="1.6" />
<line x1="313.70" y1="621.20" x2="505.20" y2="621.20" stroke="#0d0d0d" stroke-width="1.6" />
<line x1="311.30" y1="621.20" x2="314.50" y2="621.20" stroke="#0d0d0d" stroke-width="1.1" />
<text x="307.70" y="624.20" font-size="8.5" text-anchor="end" fill="#262626" stroke="#262626" stroke-width="0.1" font-weight="normal" >0</text>
<line x1="311.30" y1="595.80" x2="314.50" y2="595.80" stroke="#0d0d0d" stroke-width="1.1" />
<text x="307.70" y="598.80" font-size="8.5" text-anchor="end" fill="#262626" stroke="#262626" stroke-width="0.1" font-weight="normal" >5</text>
<line x1="311.30" y1="570.40" x2="314.50" y2="570.40" stroke="#0d0d0d" stroke-width="1.1" />
<text x="307.70" y="573.40" font-size="8.5" text-anchor="end" fill="#262626" stroke="#262626" stroke-width="0.1" font-weight="normal" >10</text>
<line x1="311.30" y1="545.00" x2="314.50" y2="545.00" stroke="#0d0d0d" stroke-width="1.1" />
<text x="307.70" y="548.00" font-size="8.5" text-anchor="end" fill="#262626" stroke="#262626" stroke-width="0.1" font-weight="normal" >15</text>
<line x1="311.30" y1="519.60" x2="314.50" y2="519.60" stroke="#0d0d0d" stroke-width="1.1" />
<text x="307.70" y="522.60" font-size="8.5" text-anchor="end" fill="#262626" stroke="#262626" stroke-width="0.1" font-weight="normal" >20</text>
<line x1="311.30" y1="494.20" x2="314.50" y2="494.20" stroke="#0d0d0d" stroke-width="1.1" />
<text x="307.70" y="497.20" font-size="8.5" text-anchor="end" fill="#262626" stroke="#262626" stroke-width="0.1" font-weight="normal" >25</text>
<text transform="translate(289.70,556.40) rotate(-90)" x="-39.50" y="3.02" font-size="8.4" font-weight="bold" textLength="79" lengthAdjust="spacingAndGlyphs" fill="#222">n of CD19+ cells (X10e6)</text>
<rect x="332.60" y="597.83" width="23.90" height="23.37" fill="none" stroke="#a02c46" stroke-width="1.05"/>
<line x1="344.55" y1="597.83" x2="344.55" y2="585.64" stroke="#151515" stroke-width="1.25" />
<line x1="338.05" y1="585.64" x2="351.05" y2="585.64" stroke="#151515" stroke-width="1.25" />
<rect x="342.20" y="542.19" width="4.6" height="4.6" fill="none" stroke="#a02c46" stroke-width="1.1"/>
<rect x="342.20" y="577.75" width="4.6" height="4.6" fill="none" stroke="#a02c46" stroke-width="1.1"/>
<rect x="342.20" y="601.63" width="4.6" height="4.6" fill="none" stroke="#a02c46" stroke-width="1.1"/>
<rect x="334.60" y="616.36" width="4.6" height="4.6" fill="none" stroke="#a02c46" stroke-width="1.1"/>
<rect x="342.20" y="617.88" width="4.6" height="4.6" fill="none" stroke="#a02c46" stroke-width="1.1"/>
<rect x="349.60" y="616.87" width="4.6" height="4.6" fill="none" stroke="#a02c46" stroke-width="1.1"/>
<rect x="368.20" y="609.52" width="24.30" height="11.68" fill="none" stroke="#3b4b70" stroke-width="1.05"/>
<line x1="380.35" y1="609.52" x2="380.35" y2="605.96" stroke="#151515" stroke-width="1.25" />
<line x1="373.85" y1="605.96" x2="386.85" y2="605.96" stroke="#151515" stroke-width="1.25" />
<rect x="370.10" y="598.58" width="4.6" height="4.6" fill="none" stroke="#3b4b70" stroke-width="1.1"/>
<rect x="381.70" y="597.06" width="4.6" height="4.6" fill="none" stroke="#3b4b70" stroke-width="1.1"/>
<rect x="374.30" y="603.15" width="4.6" height="4.6" fill="none" stroke="#3b4b70" stroke-width="1.1"/>
<rect x="381.70" y="608.74" width="4.6" height="4.6" fill="none" stroke="#3b4b70" stroke-width="1.1"/>
<rect x="381.70" y="616.87" width="4.6" height="4.6" fill="none" stroke="#3b4b70" stroke-width="1.1"/>
<rect x="374.30" y="618.90" width="4.6" height="4.6" fill="none" stroke="#3b4b70" stroke-width="1.1"/>
<rect x="427.30" y="611.29" width="25.00" height="9.91" fill="none" stroke="#a02c46" stroke-width="1.05"/>
<line x1="439.80" y1="611.29" x2="439.80" y2="609.52" stroke="#151515" stroke-width="1.25" />
<line x1="433.30" y1="609.52" x2="446.30" y2="609.52" stroke="#151515" stroke-width="1.25" />
<rect x="437.30" y="602.39" width="4.6" height="4.6" fill="none" stroke="#a02c46" stroke-width="1.1"/>
<rect x="429.20" y="608.74" width="4.6" height="4.6" fill="none" stroke="#a02c46" stroke-width="1.1"/>
<rect x="437.30" y="613.82" width="4.6" height="4.6" fill="none" stroke="#a02c46" stroke-width="1.1"/>
<rect x="444.70" y="612.80" width="4.6" height="4.6" fill="none" stroke="#a02c46" stroke-width="1.1"/>
<rect x="463.30" y="616.12" width="24.20" height="5.08" fill="none" stroke="#3b4b70" stroke-width="1.05"/>
<line x1="475.40" y1="616.12" x2="475.40" y2="614.85" stroke="#151515" stroke-width="1.25" />
<line x1="468.90" y1="614.85" x2="481.90" y2="614.85" stroke="#151515" stroke-width="1.25" />
<rect x="473.00" y="608.99" width="4.6" height="4.6" fill="none" stroke="#3b4b70" stroke-width="1.1"/>
<rect x="464.70" y="615.34" width="4.6" height="4.6" fill="none" stroke="#3b4b70" stroke-width="1.1"/>
<rect x="473.00" y="616.61" width="4.6" height="4.6" fill="none" stroke="#3b4b70" stroke-width="1.1"/>
<rect x="480.70" y="616.61" width="4.6" height="4.6" fill="none" stroke="#3b4b70" stroke-width="1.1"/>
<rect x="473.00" y="619.66" width="4.6" height="4.6" fill="none" stroke="#3b4b70" stroke-width="1.1"/>
<line x1="362.50" y1="621.20" x2="362.50" y2="624.40" stroke="#0d0d0d" stroke-width="1.1" />
<text x="362.50" y="634.80" font-size="8.0" text-anchor="middle" fill="#262626" stroke="#262626" stroke-width="0.12" font-weight="normal" >BM</text>
<line x1="457.60" y1="621.20" x2="457.60" y2="624.40" stroke="#0d0d0d" stroke-width="1.1" />
<text x="457.60" y="634.80" font-size="8.0" text-anchor="middle" fill="#262626" stroke="#262626" stroke-width="0.12" font-weight="normal" >Spleen</text>
<rect x="359.55" y="462.50" width="25.6" height="12.2" fill="none" stroke="#9c3049" stroke-width="1.3"/>
<text x="388.25" y="471.30" font-size="7.6" text-anchor="start" fill="#7f4555" stroke="#7f4555" stroke-width="0.05" font-weight="normal" >NS Females</text>
<rect x="359.55" y="482.70" width="25.6" height="12.2" fill="none" stroke="#435070" stroke-width="1.3"/>
<text x="388.25" y="491.50" font-size="7.6" text-anchor="start" fill="#4a5266" stroke="#4a5266" stroke-width="0.05" font-weight="normal" >NS Males</text>
</g></svg>
<svg width="520" height="645" style="position:absolute;left:0;top:0"><rect x="0" y="0" width="520" height="1.4" fill="#000"/><rect x="0" y="0" width="1.4" height="645" fill="#000"/><rect x="518.1" y="0" width="1.9" height="645" fill="#000"/><rect x="0" y="643.1" width="520" height="1.9" fill="#000"/></svg>
</body></html>
